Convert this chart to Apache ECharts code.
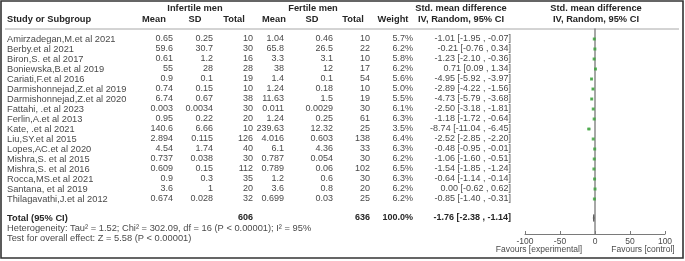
<!DOCTYPE html>
<html>
<head>
<meta charset="utf-8">
<script src="https://cdn.jsdelivr.net/npm/echarts@6/dist/echarts.min.js"></script>
<style>
  html, body { margin: 0; padding: 0; background: #fff; }
  #chart { width: 685px; height: 261px; }
</style>
</head>
<body>
<div id="chart"></div>
<script>
// 研究列表
const studies = [
  'Amirzadegan,M.et al 2021', 'Berby.et al 2021', 'Biron,S. et al 2017',
  'Boniewska,B.et al 2019', 'Cariati,F.et al 2016', 'Darmishonnejad,Z.et al 2019',
  'Darmishonnejad,Z.et al 2020', 'Fattahi, .et al 2023', 'Ferlin,A.et al 2013',
  'Kate, .et al 2021', 'Liu,SY.et al 2015', 'Lopes,AC.et al 2020',
  'Mishra,S. et al 2015', 'Mishra,S. et al 2016', 'Rocca,MS.et al 2021',
  'Santana, et al 2019', 'Thilagavathi,J.et al 2012'
]
const infMean = ['0.65', '59.6', '0.61', '55', '0.9', '0.74', '6.74', '0.003', '0.95', '140.6', '2.894', '4.54', '0.737', '0.609', '0.9', '3.6', '0.674']
const infSD = ['0.25', '30.7', '1.2', '28', '0.1', '0.15', '0.67', '0.0034', '0.22', '6.66', '0.115', '1.74', '0.038', '0.15', '0.3', '1', '0.028']
const infN = [10, 30, 16, 28, 19, 10, 38, 30, 20, 10, 126, 40, 30, 112, 35, 20, 32]
const ferMean = ['1.04', '65.8', '3.3', '38', '1.4', '1.24', '11.63', '0.011', '1.24', '239.63', '4.016', '6.1', '0.787', '0.789', '1.2', '3.6', '0.699']
const ferSD = ['0.46', '26.5', '3.1', '12', '0.1', '0.18', '1.5', '0.0029', '0.25', '12.32', '0.603', '4.36', '0.054', '0.06', '0.6', '0.8', '0.03']
const ferN = [10, 22, 10, 17, 54, 10, 19, 30, 61, 25, 138, 33, 30, 102, 30, 20, 25]
const weights = ['5.7%', '6.2%', '5.8%', '6.2%', '5.6%', '5.0%', '5.5%', '6.1%', '6.3%', '3.5%', '6.4%', '6.3%', '6.2%', '6.5%', '6.3%', '6.2%', '6.2%']
const smd = [-1.01, -0.21, -1.23, 0.71, -4.95, -2.89, -4.73, -2.50, -1.18, -8.74, -2.52, -0.48, -1.06, -1.54, -0.64, 0.00, -0.85]
const ciLow = [-1.95, -0.76, -2.10, 0.09, -5.92, -4.22, -5.79, -3.18, -1.72, -11.04, -2.85, -0.95, -1.60, -1.85, -1.14, -0.62, -1.40]
const ciHigh = [-0.07, 0.34, -0.36, 1.34, -3.97, -1.56, -3.68, -1.81, -0.64, -6.45, -2.20, -0.01, -0.51, -1.24, -0.14, 0.62, -0.31]
// 合计
const totalInf = 606
const totalFer = 636
const totalWeight = '100.0%'
const totalSmd = [-1.76, -2.38, -1.14]
const xTicks = [-100, -50, 0, 50, 100]

// 布局
const rowTop = 39
const rowGap = 10
const totalY = 218
const font = 'Liberation Sans, Arial, sans-serif'
const fontSize = 9.3
const numFontSize = 9
const axisFontSize = 8.5
const colRight = [173, 213, 253, 284, 333, 370, 413, 511]
const bodyColor = '#4a4a4a'
const headColor = '#262626'

const fmt = (v) => v.toFixed(2)
const ciText = (m, l, h) => `${fmt(m)} [${fmt(l)} , ${fmt(h)}]`

const txt = (text, x, y, align, bold, color, size) => ({
  type: 'text',
  silent: true,
  style: {
    text: String(text),
    x,
    y,
    align: align || 'left',
    verticalAlign: 'middle',
    font: `${bold ? 'bold ' : ''}${size || fontSize}px ${font}`,
    fill: color || bodyColor
  }
})

const graphics = []
// 外框
graphics.push({
  type: 'rect', silent: true,
  shape: { x: 1, y: 1, width: 682, height: 257 },
  style: { fill: null, stroke: '#333', lineWidth: 1.6 }
})
// 表头分隔线
graphics.push({
  type: 'line', silent: true,
  shape: { x1: 5, y1: 29, x2: 679, y2: 29 },
  style: { stroke: '#a8a8a8', lineWidth: 1 }
})
// 表头
graphics.push(txt('Infertile men', 195, 8, 'center', true, headColor))
graphics.push(txt('Fertile men', 313, 8, 'center', true, headColor))
graphics.push(txt('Std. mean difference', 461, 8, 'center', true, headColor))
graphics.push(txt('Std. mean difference', 596, 8, 'center', true, headColor))
graphics.push(txt('Study or Subgroup', 7, 19, 'left', true, headColor))
const subHeads = [['Mean', 154], ['SD', 195], ['Total', 234], ['Mean', 274], ['SD', 312], ['Total', 353], ['Weight', 393], ['IV, Random, 95% CI', 461], ['IV, Random, 95% CI', 596]]
subHeads.forEach(([t, x]) => graphics.push(txt(t, x, 19, 'center', true, headColor)))

// 每行数据
studies.forEach((name, i) => {
  const y = rowTop + i * rowGap
  graphics.push(txt(name, 7, y, 'left'))
  const cells = [infMean[i], infSD[i], infN[i], ferMean[i], ferSD[i], ferN[i], weights[i], ciText(smd[i], ciLow[i], ciHigh[i])]
  cells.forEach((c, k) => graphics.push(txt(c, colRight[k], y, 'right', false, bodyColor, numFontSize)))
})

// 合计行
graphics.push(txt('Total (95% CI)', 7, totalY, 'left', true, headColor))
graphics.push(txt(totalInf, colRight[2], totalY, 'right', true, headColor, numFontSize))
graphics.push(txt(totalFer, colRight[5], totalY, 'right', true, headColor, numFontSize))
graphics.push(txt(totalWeight, colRight[6], totalY, 'right', true, headColor, numFontSize))
graphics.push(txt(ciText(totalSmd[0], totalSmd[1], totalSmd[2]), colRight[7], totalY, 'right', true, headColor, numFontSize))
graphics.push(txt('Heterogeneity: Tau² = 1.52; Chi² = 302.09, df = 16 (P < 0.00001); I² = 95%', 7, 228, 'left'))
graphics.push(txt('Test for overall effect: Z = 5.58 (P < 0.00001)', 7, 238, 'left'))
graphics.push(txt('Favours [experimental]', 539, 250, 'center', false, bodyColor, axisFontSize))
graphics.push(txt('Favours [control]', 643, 250, 'center', false, bodyColor, axisFontSize))

// 行号 -> y 值（grid 顶部 29px，每 10px 一行）
const rowVal = (i) => (rowTop - 29) / rowGap + i
const totalVal = (totalY - 29) / rowGap

const pointData = smd.map((v, i) => [v, rowVal(i)])
const ciData = smd.map((v, i) => [ciLow[i], ciHigh[i], rowVal(i)])

const chart = echarts.init(document.getElementById('chart'), null, { renderer: 'canvas' })
chart.setOption({
  backgroundColor: '#fff',
  animation: false,
  grid: { left: 525, right: 20, top: 29, bottom: 27 },
  xAxis: {
    type: 'value',
    min: xTicks[0],
    max: xTicks[xTicks.length - 1],
    interval: 50,
    axisLine: { onZero: false, lineStyle: { color: '#7a7a7a', width: 1 } },
    axisTick: { inside: true, length: 3, lineStyle: { color: '#7a7a7a' } },
    axisLabel: { fontSize: axisFontSize, fontFamily: font, color: bodyColor, margin: 3 },
    splitLine: { show: false }
  },
  yAxis: {
    type: 'value',
    inverse: true,
    min: 0,
    max: 20.5,
    axisLine: { show: true, onZero: true, lineStyle: { color: '#8a8a8a', width: 1.5 } },
    axisTick: { show: false },
    axisLabel: { show: false },
    splitLine: { show: false }
  },
  series: [
    {
      type: 'custom',
      silent: true,
      data: ciData,
      renderItem: (params, api) => {
        const a = api.coord([api.value(0), api.value(2)])
        const b = api.coord([api.value(1), api.value(2)])
        return {
          type: 'line',
          shape: { x1: a[0], y1: a[1], x2: b[0], y2: b[1] },
          style: { stroke: '#3c9a3c', lineWidth: 1 }
        }
      }
    },
    {
      type: 'scatter',
      silent: true,
      symbol: 'rect',
      symbolSize: 3,
      itemStyle: { color: '#3ca23c' },
      data: pointData
    },
    {
      type: 'custom',
      silent: true,
      data: [[totalSmd[0], totalSmd[1], totalSmd[2], totalVal]],
      renderItem: (params, api) => {
        const c = api.coord([api.value(0), api.value(3)])
        const l = api.coord([api.value(1), api.value(3)])
        const r = api.coord([api.value(2), api.value(3)])
        const h = 3.5
        return {
          type: 'polygon',
          shape: { points: [[l[0], c[1]], [c[0], c[1] - h], [r[0], c[1]], [c[0], c[1] + h]] },
          style: { fill: '#555', stroke: '#555', lineWidth: 0.8 }
        }
      }
    }
  ],
  graphic: graphics
})
</script>
</body>
</html>
